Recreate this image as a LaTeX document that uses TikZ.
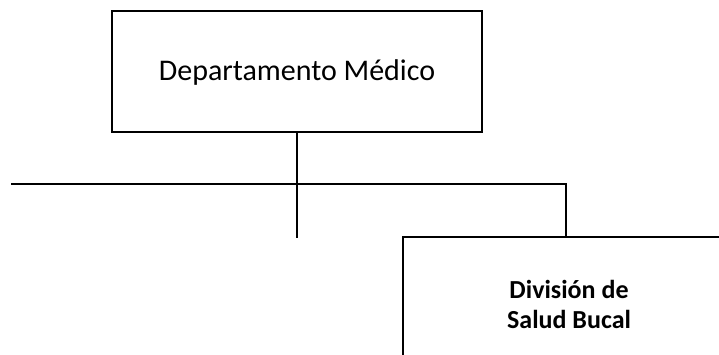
\documentclass[tikz,border=0pt]{standalone}
\usepackage{fontspec}
\setmainfont{Carlito}
\begin{document}
\begin{tikzpicture}[x=1pt,y=-1pt,
  orgbox/.style={draw=black,line width=2pt,fill=white},
  conn/.style={draw=black,line width=2pt}]
\useasboundingbox (0,0) rectangle (719,355);
\begin{scope}
\clip (0,0) rectangle (719,355);
\path[orgbox] (112,11) rectangle (482,132);
\node[font=\fontsize{30}{36}\selectfont] (dep) at (297,73) {Departamento Médico};
\coordinate (depb) at (297,132);
\coordinate (junc) at (297,184);
\coordinate (stub) at (297,238);
\coordinate (left) at (11,184);
\coordinate (right) at (566,184);
\coordinate (divt) at (566,237);
\draw[conn] (depb) -- (stub);
\draw[conn] (left) -- (right) -- (divt);
\path[orgbox] (403,237) rectangle (735,370);
\node[font=\bfseries\fontsize{26}{30}\selectfont,align=center] (div) at (569,304) {División de\\Salud Bucal};
\end{scope}
\end{tikzpicture}
\end{document}
